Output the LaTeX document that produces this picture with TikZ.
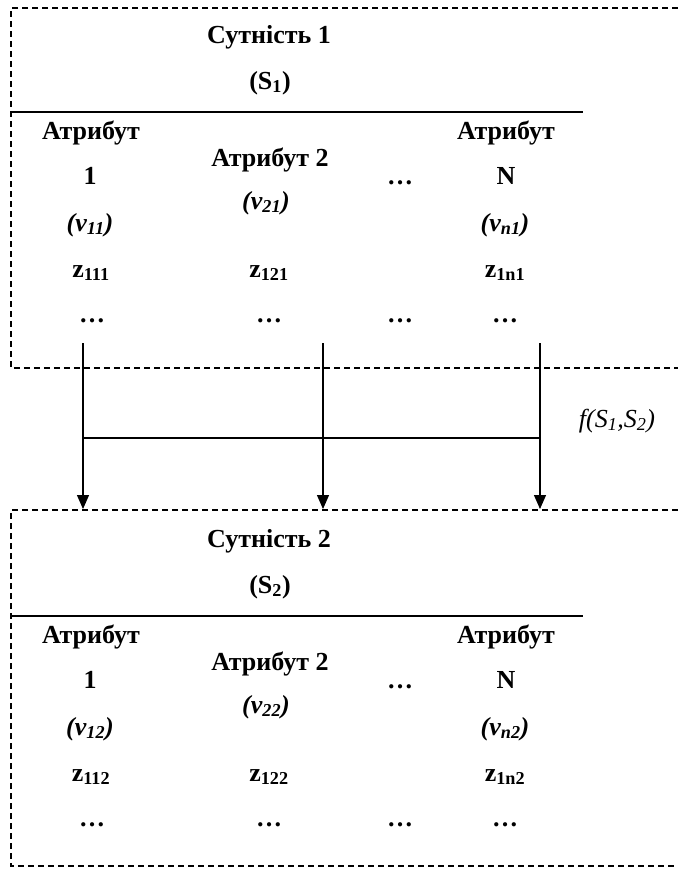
\documentclass[tikz,border=0pt]{standalone}
\usepackage{fontspec}
\setmainfont{Liberation Serif}
\usetikzlibrary{arrows.meta}
\begin{document}
\begin{tikzpicture}[x=1pt,y=-1pt,
  txt/.style={font=\fontsize{26}{30}\selectfont\bfseries, inner sep=0pt, anchor=base},
  lbl/.style={font=\fontsize{26}{30}\selectfont\itshape, inner sep=0pt, anchor=base},
  frame/.style={dashed, dash pattern=on 6pt off 4pt, line width=1.2pt},
  rule/.style={line width=1.6pt},
  conn/.style={line width=1.3pt},
  arr/.style={conn, -{Triangle[length=14pt,width=12pt]}}]
\useasboundingbox (0,0) rectangle (678,871);
% ---------- entity 1 ----------
\draw[frame] (678,8) -- (11,8) -- (11,368) -- (678,368);
\node[txt] (t1) at (269,43) {Сутність 1};
\node[txt] (s1) at (270,89) {(S\textsubscript{1})};
\draw[rule] (11,112) -- (583,112);
\node[txt] (a11) at (91,139) {Атрибут};
\node[txt] (a12) at (90,184) {1};
\node[txt] (v11) at (90,231) {\itshape (v\textsubscript{11})};
\node[txt] (z111) at (91,277) {z\textsubscript{111}};
\node[txt] (d11) at (92,322) {…};
\node[txt] (a21) at (270,166) {Атрибут 2};
\node[txt] (v21) at (266,209) {\itshape (v\textsubscript{21})};
\node[txt] (z121) at (269,277) {z\textsubscript{121}};
\node[txt] (d21) at (269,322) {…};
\node[txt] (d31) at (400,184) {…};
\node[txt] (d32) at (400,322) {…};
\node[txt] (an1) at (506,139) {Атрибут};
\node[txt] (an2) at (506,184) {N};
\node[txt] (vn1) at (505,231) {\itshape (v\textsubscript{n1})};
\node[txt] (z1n1) at (505,277) {z\textsubscript{1n1}};
\node[txt] (dn1) at (505,322) {…};
% ---------- connectors ----------
\coordinate (c1) at (83,343);
\coordinate (c2) at (323,343);
\coordinate (c3) at (540,343);
\coordinate (e1) at (83,509);
\coordinate (e2) at (323,509);
\coordinate (e3) at (540,509);
\coordinate (h1) at (83,438);
\coordinate (h3) at (540,438);
\draw[arr] (c1) -- (e1);
\draw[arr] (c2) -- (e2);
\draw[arr] (c3) -- (e3);
\draw[conn] (h1) -- (h3);
\node[lbl] (f) at (617,427) {f(S\textsubscript{1},S\textsubscript{2})};
% ---------- entity 2 ----------
\draw[frame] (678,510) -- (11,510) -- (11,866) -- (678,866);
\node[txt] (t2) at (269,547) {Сутність 2};
\node[txt] (s2) at (270,593) {(S\textsubscript{2})};
\draw[rule] (11,616) -- (583,616);
\node[txt] (b11) at (91,643) {Атрибут};
\node[txt] (b12) at (90,688) {1};
\node[txt] (v12) at (90,735) {\itshape (v\textsubscript{12})};
\node[txt] (z112) at (91,781) {z\textsubscript{112}};
\node[txt] (e11) at (92,826) {…};
\node[txt] (b21) at (270,670) {Атрибут 2};
\node[txt] (v22) at (266,713) {\itshape (v\textsubscript{22})};
\node[txt] (z122) at (269,781) {z\textsubscript{122}};
\node[txt] (e21) at (269,826) {…};
\node[txt] (e31) at (400,688) {…};
\node[txt] (e32) at (400,826) {…};
\node[txt] (bn1) at (506,643) {Атрибут};
\node[txt] (bn2) at (506,688) {N};
\node[txt] (vn2) at (505,735) {\itshape (v\textsubscript{n2})};
\node[txt] (z1n2) at (505,781) {z\textsubscript{1n2}};
\node[txt] (en1) at (505,826) {…};
\end{tikzpicture}
\end{document}
